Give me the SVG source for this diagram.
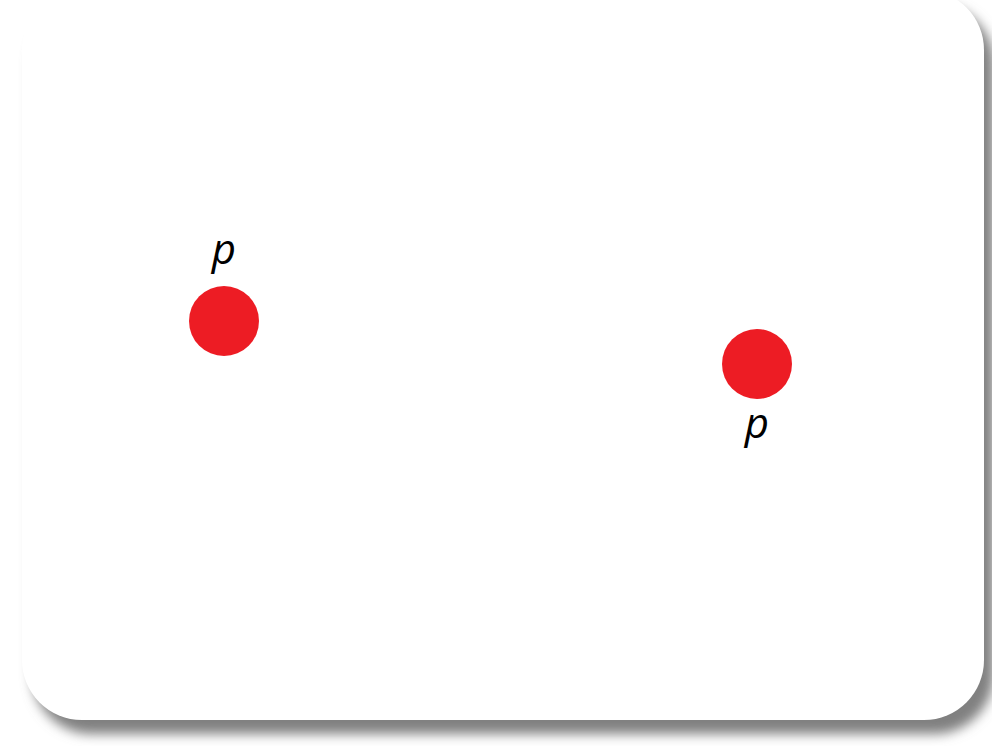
<svg xmlns="http://www.w3.org/2000/svg" width="992" height="746" viewBox="0 0 992 746">
<defs>
<filter id="sh" x="-10%" y="-10%" width="120%" height="120%">
<feGaussianBlur stdDeviation="6"/>
</filter>
<style>
.dot{fill:#ED1C24}
.lbl{font-family:"Open Sans","Liberation Sans",sans-serif;font-style:italic;font-size:42px;fill:#000;text-anchor:middle}
</style>
</defs>
<rect x="0" y="0" width="992" height="746" fill="#fff"/>
<rect x="32" y="4" width="962" height="730" rx="60" fill="#808080" filter="url(#sh)"/>
<rect x="22" y="-10" width="962" height="730" rx="60" fill="#fff"/>
<g id="p1">
<circle class="dot" cx="224" cy="321" r="35"/>
<text class="lbl" x="224" y="264">p</text>
</g>
<g id="p2">
<circle class="dot" cx="757" cy="364" r="35"/>
<text class="lbl" x="757" y="438">p</text>
</g>
<g id="connectors"/>
</svg>
